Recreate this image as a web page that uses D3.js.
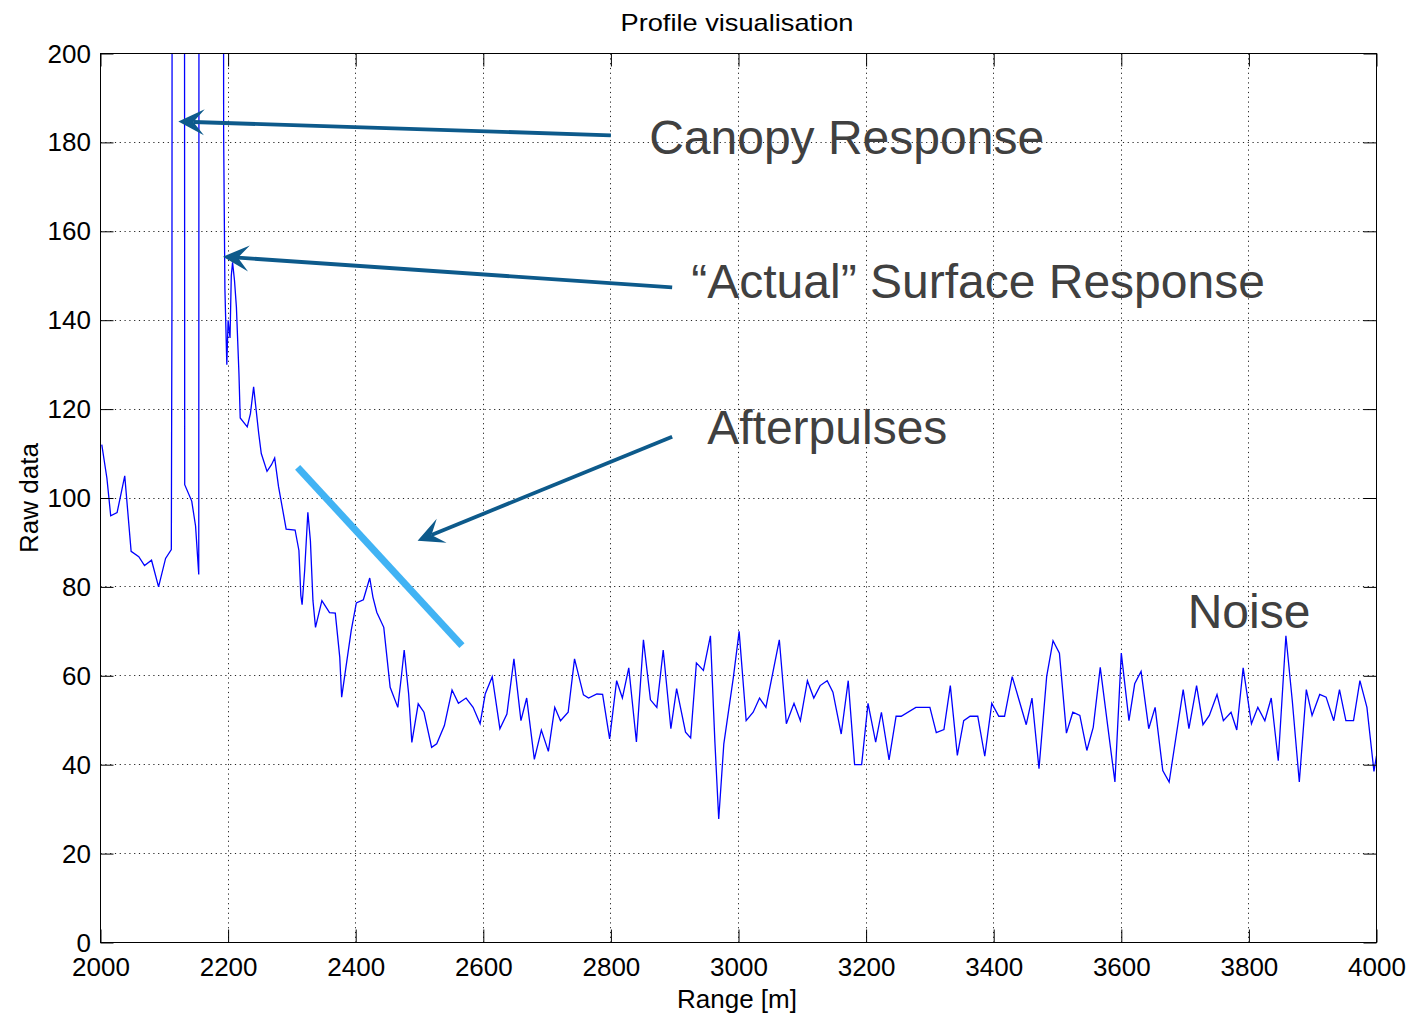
<!DOCTYPE html>
<html><head><meta charset="utf-8">
<script src="https://cdn.jsdelivr.net/npm/d3@7"></script>
<style>body{margin:0;background:#fff;} text{font-family:"Liberation Sans",Arial,Helvetica,sans-serif;}</style>
</head><body><svg id="c" width="1411" height="1015"></svg>
<script>
// ---------- data ----------
const ranges = [2002,2010,2016,2026,2038,2048,2060,2069,2080,2091,2102,2111,2112,2113,2122,2131,2132,2143,2149,2154,2155,2170,2185,2192,2193,2195,2198,2200,2203,2205,2207,2210,2213,2217,2219,2230,2235,2240,2248,2252,2261,2268,2273,2279,2291,2305,2311,2314,2316,2320,2325,2329,2333,2337,2347,2359,2368,2375,2378,2384,2393,2401,2412,2422,2427,2433,2444,2454,2466,2472,2476,2483,2488,2498,2507,2519,2527,2539,2551,2561,2573,2584,2595,2603,2614,2626,2637,2648,2659,2668,2680,2691,2702,2712,2721,2733,2743,2757,2765,2778,2787,2798,2809,2818,2828,2840,2851,2862,2872,2882,2894,2903,2917,2925,2934,2945,2956,2963,2969,2977,2992,3001,3012,3023,3033,3043,3064,3075,3087,3097,3108,3118,3128,3139,3148,3161,3172,3182,3193,3203,3215,3224,3236,3247,3255,3278,3300,3310,3322,3332,3343,3353,3363,3375,3386,3397,3408,3417,3429,3451,3460,3471,3483,3493,3503,3514,3524,3535,3546,3556,3567,3579,3590,3600,3612,3621,3631,3643,3653,3665,3675,3697,3706,3718,3728,3738,3750,3760,3772,3781,3791,3804,3814,3825,3835,3846,3858,3868,3879,3890,3899,3911,3921,3933,3942,3952,3964,3974,3985,3996,4000];
const rawValues = [112,104.5,96,96.7,105,88,86.8,84.8,86,80,86.4,88.4,144,480,520,470,103,99.3,93.7,82.8,480,510,500,490,182,147,130,140,136,150,153,149,143,128,118,116,119,125,114.5,110,106,107.5,109,102.6,93,92.8,88.2,78.1,76,83.7,96.8,90.4,76.9,70.9,76.9,74.2,74.1,64.2,55.2,61.2,70.2,76.4,77.1,82,77.7,74.3,70.9,57.4,52.9,60.4,65.8,55.9,45,53.7,51.8,43.9,44.7,48.8,56.8,53.8,55,52.9,49.2,55.9,59.8,48.1,51.4,63.8,49.9,55,41.2,47.8,43,52.9,49.9,51.8,63.8,55.7,55,55.9,55.8,45.8,58.9,55,61.8,45.1,68.1,54.6,52.9,65.8,48.1,57.1,47.3,46,62.9,61.2,69,45.1,27.8,44.7,59.7,70,49.9,51.8,55,52.9,68.1,49.2,53.8,49.9,58.9,55,57.8,58.9,56.3,46.9,58.9,40,40,53.8,45.1,51.8,41.1,50.9,50.9,52.9,52.9,47.2,47.9,57.8,42.1,49.9,50.9,50.9,41.9,53.8,50.9,50.9,59.8,49,55,39.1,59.8,67.9,65.1,47.1,51.8,51.1,43.2,48.4,61.9,48.4,36.1,65.1,49.9,58.2,61,48.1,52.9,38.7,36.1,56.9,48.1,57.8,49,51.1,55.8,49.9,51.8,47.8,61.8,49.2,52.9,49.9,55,40.9,69,54.4,36.1,56.9,51.1,55.8,55.2,49.9,56.9,49.9,49.9,58.9,52.9,38.5,42];
const xTicks = [2000,2200,2400,2600,2800,3000,3200,3400,3600,3800,4000];
const yTicks = [0,20,40,60,80,100,120,140,160,180,200];
const titleText = "Profile visualisation";
const xLabelText = "Range [m]";
const yLabelText = "Raw data";
// annotations (data units)
const annotationLabels = ["Canopy Response","\u201CActual\u201D Surface Response","Afterpulses","Noise"];
const labelRanges = [2860, 2926, 2951, 3704];
const labelValues = [177.5, 145.0, 112.1, 70.8];
const arrowFromRanges = [2800, 2896, 2896];
const arrowFromValues = [181.6, 147.4, 113.8];
const arrowToRanges = [2122, 2192, 2497];
const arrowToValues = [184.7, 154.3, 90.4];
const trendRanges = [2309, 2566.5];
const trendValues = [106.9, 66.8];

// ---------- drawing ----------
const svg = d3.select("#c");
svg.append("rect").attr("width",1411).attr("height",1015).attr("fill","#fff");
const L=100.5, R=1376.5, T=53.5, B=942.5;
const x = d3.scaleLinear().domain([2000,4000]).range([L,R]);
const y = d3.scaleLinear().domain([0,200]).range([B,T]);
const cx = d => Math.round(x(d)-0.5)+0.5;
const cy = d => Math.round(y(d)-0.5)+0.5;

// grid
const grid = svg.append("g").attr("stroke","#000").attr("stroke-width",1).attr("stroke-dasharray","1.2,3.6").attr("opacity",0.85);
grid.selectAll("line.gx").data(xTicks.slice(1,-1)).join("line")
  .attr("x1",cx).attr("x2",cx).attr("y1",T).attr("y2",B);
grid.selectAll("line.gy").data(yTicks.slice(1,-1)).join("line")
  .attr("y1",cy).attr("y2",cy).attr("x1",L).attr("x2",R);

// data line
svg.append("clipPath").attr("id","clip").append("rect").attr("x",L).attr("y",T).attr("width",R-L).attr("height",B-T);
const pts = ranges.map((r,i)=>[r,rawValues[i]]);
svg.append("path").datum(pts).attr("clip-path","url(#clip)")
  .attr("fill","none").attr("stroke","#0000ff").attr("stroke-width",1.3)
  .attr("d", d3.line().x(d=>x(d[0])).y(d=>y(d[1])));

// axes
const fontSize = 26;
const ax = svg.append("g").attr("transform",`translate(0,${B})`)
  .call(d3.axisBottom(x).tickValues(xTicks).tickSize(-13).tickSizeOuter(0).tickPadding(15).tickFormat(d3.format("d")));
const axT = svg.append("g").attr("transform",`translate(0,${T})`)
  .call(d3.axisTop(x).tickValues(xTicks).tickSize(-13).tickSizeOuter(0).tickFormat(""));
const ay = svg.append("g").attr("transform",`translate(${L},0)`)
  .call(d3.axisLeft(y).tickValues(yTicks).tickSize(-13).tickSizeOuter(0).tickPadding(9.5).tickFormat(d3.format("d")));
const ayR = svg.append("g").attr("transform",`translate(${R},0)`)
  .call(d3.axisRight(y).tickValues(yTicks).tickSize(-13).tickSizeOuter(0).tickFormat(""));
[ax,axT,ay,ayR].forEach(g=>{
  g.select(".domain").remove();
  g.selectAll(".tick line").attr("stroke","#000");
  g.selectAll("text").attr("font-size",fontSize).attr("fill","#000").attr("font-family","Liberation Sans, Arial, sans-serif");
});
ay.selectAll("text").attr("dy","0.33em");
svg.append("rect").attr("x",L).attr("y",T).attr("width",R-L).attr("height",B-T)
  .attr("fill","none").attr("stroke","#000").attr("stroke-width",1);

// titles
svg.append("text").attr("x",737).attr("y",31).attr("text-anchor","middle")
  .attr("font-size",24).attr("textLength",233).attr("lengthAdjust","spacingAndGlyphs").text(titleText);
svg.append("text").attr("x",737).attr("y",1008).attr("text-anchor","middle")
  .attr("font-size",fontSize).text(xLabelText);
svg.append("text").attr("transform","translate(37.5,498) rotate(-90)").attr("text-anchor","middle")
  .attr("font-size",fontSize).text(yLabelText);

// annotations
const annG = svg.append("g");
annG.append("line").attr("x1",x(trendRanges[0])).attr("y1",y(trendValues[0]))
  .attr("x2",x(trendRanges[1])).attr("y2",y(trendValues[1]))
  .attr("stroke","#41b3f4").attr("stroke-width",7);
const arrowColor = "#0d5a8b";
arrowFromRanges.forEach((r,i)=>{
  const x0=x(r), y0=y(arrowFromValues[i]), x1=x(arrowToRanges[i]), y1=y(arrowToValues[i]);
  const dx=x1-x0, dy=y1-y0, len=Math.hypot(dx,dy), ux=dx/len, uy=dy/len, px=-uy, py=ux;
  const headLen=26, headW=13, notch=15;
  annG.append("line").attr("x1",x0).attr("y1",y0).attr("x2",x1-ux*notch).attr("y2",y1-uy*notch)
    .attr("stroke",arrowColor).attr("stroke-width",3.8);
  const p = [[x1,y1],[x1-ux*headLen+px*headW,y1-uy*headLen+py*headW],[x1-ux*notch,y1-uy*notch],[x1-ux*headLen-px*headW,y1-uy*headLen-py*headW]];
  annG.append("path").attr("d","M"+p.map(q=>q.join(",")).join("L")+"Z").attr("fill",arrowColor);
});
annotationLabels.forEach((t,i)=>{
  annG.append("text").attr("x",x(labelRanges[i])).attr("y",y(labelValues[i]))
    .attr("font-size",48).attr("fill","#404040").text(t);
});
</script></body></html>
